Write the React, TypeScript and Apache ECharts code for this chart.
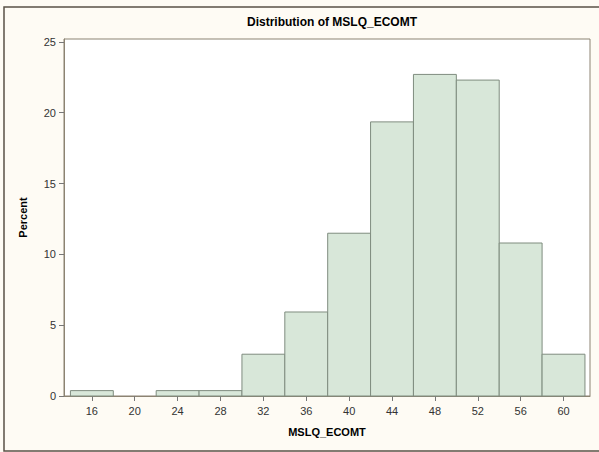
import React, { useEffect, useRef } from "react";
import * as echarts from "echarts";

const binCenters = [16, 20, 24, 28, 32, 36, 40, 44, 48, 52, 56, 60];
const percents = [0.38, 0, 0.38, 0.38, 2.95, 5.93, 11.49, 19.35, 22.7, 22.3, 10.8, 2.95];
const binWidth = 4;
const xTicks = [16, 20, 24, 28, 32, 36, 40, 44, 48, 52, 56, 60];
const yTicks = [0, 5, 10, 15, 20, 25];
const chartTitle = "Distribution of MSLQ_ECOMT";
const xName = "MSLQ_ECOMT";
const yName = "Percent";

const FONT = "'Liberation Sans', Arial, sans-serif";

export default function App() {
  const ref = useRef<HTMLDivElement>(null);
  useEffect(() => {
    if (!ref.current) return;
    const chart = echarts.init(ref.current, null, { renderer: "svg" });
    const data = binCenters.map((c, i) => [c, percents[i]]);
    chart.setOption({
      animation: false,
      backgroundColor: "#FEFBF4",
      title: {
        text: chartTitle,
        left: 327,
        top: 11,
        textAlign: "center",
        textStyle: { fontFamily: FONT, fontSize: 12, fontWeight: "bold", color: "#000" },
      },
      graphic: [
        {
          type: "rect",
          shape: { x: 4, y: 7, width: 700, height: 444 },
          style: { fill: "none", stroke: "#5A5246", lineWidth: 1.5 },
          silent: true,
        },
      ],
      grid: {
        left: 64,
        right: 9,
        top: 39,
        bottom: 56,
        show: true,
        backgroundColor: "#FFFFFF",
        borderColor: "#8C8372",
        borderWidth: 1,
      },
      xAxis: {
        type: "value",
        min: 13.4,
        max: 62.47,
        name: xName,
        nameLocation: "middle",
        nameGap: 30,
        nameTextStyle: { fontFamily: FONT, fontSize: 11, fontWeight: "bold", color: "#000" },
        axisLine: { show: true, lineStyle: { color: "#8C8372" } },
        axisTick: { show: true, length: 5, lineStyle: { color: "#777" }, customValues: xTicks },
        axisLabel: {
          customValues: xTicks,
          fontFamily: FONT,
          fontSize: 11,
          color: "#333",
          margin: 9,
        },
        splitLine: { show: false },
      },
      yAxis: {
        type: "value",
        min: 0,
        max: 25.2,
        name: yName,
        nameLocation: "middle",
        nameRotate: 90,
        nameGap: 36,
        nameTextStyle: { fontFamily: FONT, fontSize: 11, fontWeight: "bold", color: "#000" },
        axisLine: { show: true, lineStyle: { color: "#8C8372" } },
        axisTick: { show: true, length: 5, lineStyle: { color: "#777" }, customValues: yTicks },
        axisLabel: {
          customValues: yTicks,
          fontFamily: FONT,
          fontSize: 11,
          color: "#333",
          margin: 8,
        },
        splitLine: { show: false },
      },
      series: [
        {
          type: "custom",
          data,
          encode: { x: 0, y: 1 },
          renderItem: (params: any, api: any) => {
            const c = api.value(0);
            const v = api.value(1);
            if (!v) return null;
            const p1 = api.coord([c - binWidth / 2, v]);
            const p2 = api.coord([c + binWidth / 2, 0]);
            return {
              type: "rect",
              shape: { x: p1[0], y: p1[1], width: p2[0] - p1[0], height: p2[1] - p1[1] },
              style: { fill: "#D8E7D9", stroke: "#7F8C7F", lineWidth: 1 },
            };
          },
        },
      ],
    });
    return () => chart.dispose();
  }, []);
  return (
    <div
      ref={ref}
      style={{ position: "absolute", left: 0, top: 0, width: 599, height: 452 }}
    />
  );
}
